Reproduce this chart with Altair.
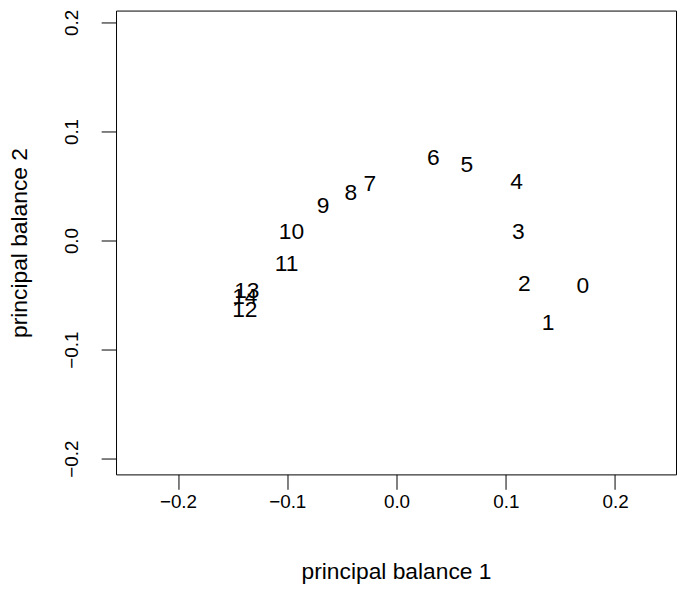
import altair as alt
import pandas as pd

labels = ["0", "1", "2", "3", "4", "5", "6", "7", "8", "9", "10", "11", "12", "13", "14"]
pb1 = [0.1705, 0.1388, 0.1170, 0.1116, 0.1098, 0.0644, 0.0336, -0.0245, -0.0417,
       -0.0671, -0.0961, -0.1007, -0.1388, -0.1370, -0.1388]
pb2 = [-0.0418, -0.0755, -0.0400, 0.0082, 0.0536, 0.0690, 0.0755, 0.0518, 0.0436,
       0.0318, 0.0082, -0.0218, -0.0636, -0.0464, -0.0518]
ticks = [-0.2, -0.1, 0.0, 0.1, 0.2]

df = pd.DataFrame({"label": labels, "pb1": pb1, "pb2": pb2})

FONT = "Liberation Sans"

chart = alt.Chart(df).mark_text(
    font=FONT, fontSize=23, color="black", align="center", baseline="middle"
).encode(
    x=alt.X("pb1:Q", scale=alt.Scale(domain=[-0.2567, 0.2558], nice=False, zero=False),
            axis=alt.Axis(values=ticks, format=".1f", title="principal balance 1",
                          tickSize=15, labelPadding=3, titlePadding=50,
                          labelFontSize=19, titleFontSize=23)),
    y=alt.Y("pb2:Q", scale=alt.Scale(domain=[-0.2145, 0.2109], nice=False, zero=False),
            axis=alt.Axis(values=ticks, format=".1f", title="principal balance 2",
                          tickSize=15, labelPadding=20, titlePadding=31,
                          labelAngle=-90, labelAlign="center", labelBaseline="bottom",
                          labelFontSize=19, titleFontSize=23)),
    text="label:N",
).properties(
    width=565, height=468,
    padding={"left": 109, "top": 0, "right": 1, "bottom": 110},
    autosize=alt.AutoSizeParams(type="none"),
).configure_axis(
    domain=False, grid=False, tickColor="black", tickWidth=1,
    labelColor="black", titleColor="black", labelFont=FONT, titleFont=FONT,
    titleFontWeight="normal",
).configure_view(
    stroke="black", strokeWidth=1
)

chart.save("out.html", embed_options={"renderer": "svg", "actions": False})
